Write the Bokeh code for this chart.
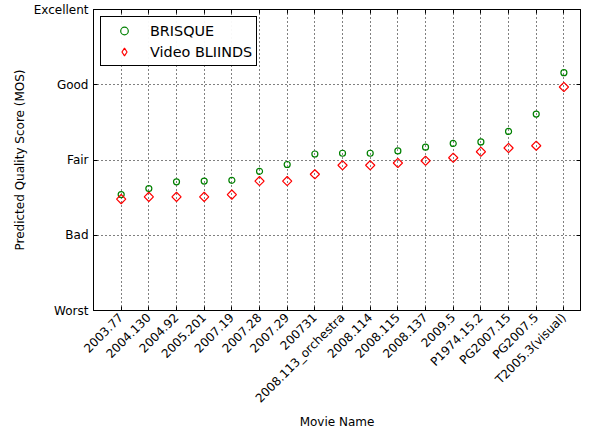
import math
from bokeh.plotting import figure
from bokeh.models import FixedTicker, LinearAxis, Range1d, Legend, LegendItem
from bokeh.embed import file_html
from bokeh.resources import INLINE

movies = ["2003.77", "2004.130", "2004.92", "2005.201", "2007.19", "2007.28", "2007.29",
          "200731", "2008.113_orchestra", "2008.114", "2008.115", "2008.137", "2009.5",
          "P1974.15.2", "PG2007.15", "PG2007.5", "T2005.3(visual)"]
brisque = [2.54, 2.62, 2.71, 2.72, 2.73, 2.85, 2.94, 3.08, 3.09, 3.09, 3.12, 3.17, 3.22,
           3.24, 3.38, 3.61, 4.16]
bliinds = [2.48, 2.51, 2.51, 2.51, 2.54, 2.72, 2.72, 2.81, 2.93, 2.93, 2.96, 2.99, 3.03,
           3.11, 3.16, 3.19, 3.97]
quality_ticks = [1, 2, 3, 4, 5]
quality_labels = ["Worst", "Bad", "Fair", "Good", "Excellent"]

FONT = "DejaVu Sans"
xs = list(range(len(movies)))

p = figure(output_backend="svg", toolbar_location=None,
           frame_width=487, frame_height=301,
           x_range=Range1d(-1, 16.6), y_range=Range1d(1, 5),
           min_border_left=93, min_border_top=9, min_border_right=3, min_border_bottom=112,
           background_fill_color="white", border_fill_color="white")
p.outline_line_color = "black"
p.outline_line_width = 1

# axes
p.xaxis.ticker = FixedTicker(ticks=xs)
p.xaxis.major_label_overrides = {i: m for i, m in enumerate(movies)}
p.xaxis.major_label_orientation = math.pi / 4
p.yaxis.ticker = FixedTicker(ticks=quality_ticks)
p.yaxis.major_label_overrides = {t: l for t, l in zip(quality_ticks, quality_labels)}
p.xaxis.axis_label = "Movie Name"
p.yaxis.axis_label = "Predicted Quality Score (MOS)"
for ax in (p.xaxis[0], p.yaxis[0]):
    ax.major_tick_in = 4
    ax.major_tick_out = 0
    ax.minor_tick_in = 0
    ax.minor_tick_out = 0
    ax.axis_line_color = "black"
    ax.major_label_text_font = FONT
    ax.major_label_text_font_size = "12px"
    ax.major_label_text_color = "black"
    ax.axis_label_text_font = FONT
    ax.axis_label_text_font_size = "12px"
    ax.axis_label_text_font_style = "normal"
    ax.axis_label_text_color = "black"
p.xaxis.axis_label_standoff = 2
p.yaxis.axis_label_standoff = 4

top = LinearAxis(ticker=FixedTicker(ticks=xs), major_label_text_font_size="0px",
                 major_tick_in=4, major_tick_out=0, minor_tick_in=0, minor_tick_out=0)
right = LinearAxis(ticker=FixedTicker(ticks=quality_ticks), major_label_text_font_size="0px",
                   major_tick_in=4, major_tick_out=0, minor_tick_in=0, minor_tick_out=0)
p.add_layout(top, "above")
p.add_layout(right, "right")

p.xgrid.ticker = FixedTicker(ticks=xs)
p.ygrid.ticker = FixedTicker(ticks=quality_ticks)
for g in (p.xgrid[0], p.ygrid[0]):
    g.grid_line_color = "black"
    g.grid_line_dash = "1 3"
    g.grid_line_width = 1

r1 = p.scatter(xs, brisque, marker="circle", size=6, fill_color=None,
               line_color="#008000", line_width=1.2)
r2 = p.scatter(xs, bliinds, marker="square", angle=math.pi / 4, size=6.5, fill_color=None,
               line_color="#ff0000", line_width=1.2)
# legend-only glyph (legend markers are drawn unrotated); NaN so nothing is plotted
r2_leg = p.scatter([float("nan")], [float("nan")], marker="diamond", size=10,
                   fill_color=None, line_color="#ff0000", line_width=1.2)

legend = Legend(items=[LegendItem(label="BRISQUE", renderers=[r1]),
                       LegendItem(label="Video BLIINDS", renderers=[r2_leg])],
                location="top_left")
legend.label_text_font = FONT
legend.label_text_font_size = "14.4px"
legend.label_text_color = "black"
legend.border_line_color = "black"
legend.border_line_width = 1
legend.border_line_alpha = 1
legend.margin = 7
legend.padding = 4
legend.spacing = 2
legend.glyph_width = 38
legend.glyph_height = 19
legend.label_height = 19
legend.label_standoff = 7
p.add_layout(legend)

open("out.html", "w").write(file_html(p, INLINE))
